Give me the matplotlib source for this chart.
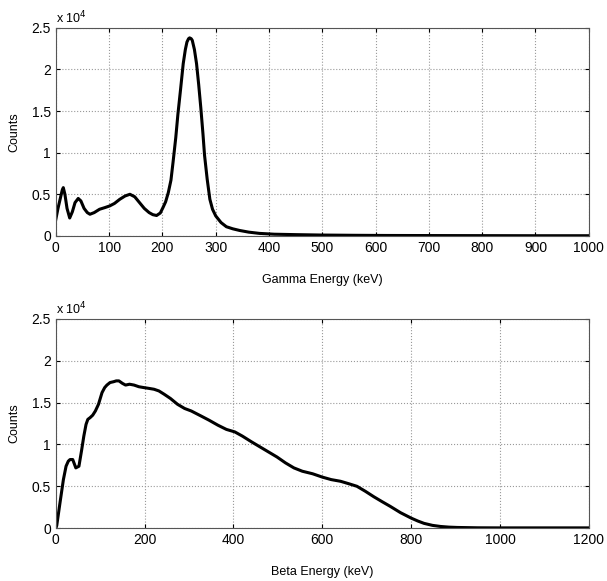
import matplotlib
matplotlib.use("Agg")
from matplotlib import pyplot as plt
from matplotlib.ticker import FuncFormatter

plt.rcParams['font.family'] = ['Liberation Sans', 'DejaVu Sans']

# gamma spectrum
gamma_e = [0, 4, 8, 12, 14, 17, 21, 26, 31, 36, 42, 47, 53, 59, 64, 72, 82, 92,
           101, 110, 120, 130, 139, 148, 157, 166, 175, 182, 189, 196, 201, 206,
           211, 216, 220, 225, 229, 234, 239, 243, 246, 249, 251, 254, 256, 260,
           264, 268, 272, 276, 279, 284, 289, 294, 300, 310, 320, 332, 345, 362,
           382, 410, 450, 500, 560, 620, 700, 800, 900, 1000]
gamma_c = [2000, 3300, 4400, 5500, 5800, 5000, 3300, 2150, 2900, 4000, 4500, 4200,
           3300, 2800, 2600, 2800, 3200, 3400, 3600, 3900, 4400, 4800, 5000, 4700,
           4000, 3300, 2800, 2550, 2450, 2750, 3400, 4100, 5200, 6700, 8900, 11800,
           14600, 17600, 20700, 22400, 23300, 23700, 23800, 23700, 23500, 22400,
           20700, 18200, 15400, 12300, 9700, 6800, 4400, 3200, 2400, 1600, 1100,
           850, 650, 450, 300, 200, 150, 100, 70, 50, 40, 30, 20, 20]

# beta spectrum
beta_e = [0, 2, 9, 17, 23, 28, 32, 38, 45, 52, 58, 63, 68, 72, 77, 83, 89, 96, 104,
          110, 115, 122, 130, 136, 142, 150, 157, 166, 176, 187, 198, 210, 221, 232,
          244, 258, 274, 290, 305, 316, 327, 345, 365, 384, 403, 420, 441, 460, 479,
          498, 517, 536, 555, 578, 600, 620, 641, 660, 678, 697, 716, 735, 753, 776,
          800, 815, 829, 848, 866, 885, 904, 950, 1000, 1050, 1100, 1150, 1200]
beta_c = [0, 300, 2900, 5800, 7400, 8000, 8200, 8200, 7200, 7400, 9300, 11000,
          12400, 13000, 13200, 13500, 14000, 14800, 16200, 16800, 17100, 17400,
          17500, 17600, 17600, 17300, 17100, 17200, 17100, 16900, 16800, 16700,
          16600, 16400, 16000, 15500, 14800, 14300, 14000, 13700, 13400, 12900,
          12300, 11800, 11500, 11000, 10300, 9700, 9100, 8500, 7800, 7200, 6800,
          6500, 6100, 5800, 5600, 5300, 5000, 4400, 3750, 3150, 2600, 1850, 1200,
          850, 570, 330, 200, 120, 80, 40, 30, 30, 30, 30, 30]

fig = plt.figure(figsize=(6.07, 5.81), dpi=100)
ax1 = fig.add_axes([0.092, 0.594, 0.878, 0.358])
ax2 = fig.add_axes([0.092, 0.091, 0.878, 0.360])

panels = [
    (ax1, gamma_e, gamma_c, 1000, range(0, 1001, 100), "Gamma Energy (keV)"),
    (ax2, beta_e, beta_c, 1200, range(0, 1201, 200), "Beta Energy (keV)"),
]

for ax, x, y, xmax, xt, lab in panels:
    ax.plot(x, y, color="black", linewidth=2.2)
    ax.set_xlim(0, xmax)
    ax.set_ylim(0, 25000)
    ax.set_xticks(list(xt))
    ax.set_yticks([0, 5000, 10000, 15000, 20000, 25000])
    ax.yaxis.set_major_formatter(FuncFormatter(lambda v, p: "%g" % (v / 1e4)))
    ax.grid(True, linestyle=":", color="#999999", linewidth=0.8)
    ax.tick_params(direction="in", labelsize=10, length=3, top=True, right=True)
    for s in ax.spines.values():
        s.set_color("#555555")
    ax.set_xlabel(lab, fontsize=9, labelpad=14)
    ax.set_ylabel("Counts", fontsize=9, labelpad=8)
    ax.text(0.0, 1.02, r"x 10$^4$", transform=ax.transAxes, fontsize=9)

fig.savefig("out.png", dpi=100)
